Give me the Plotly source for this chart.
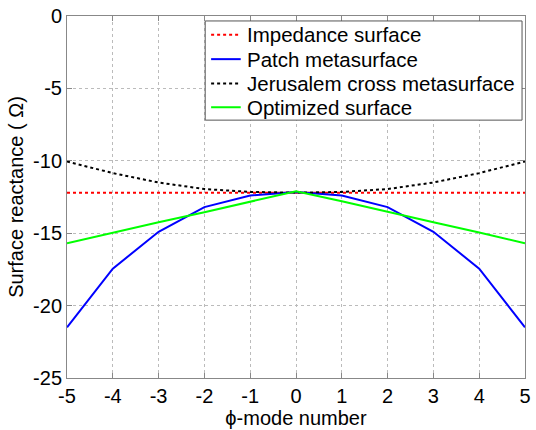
import plotly.graph_objects as go

# phi-mode index and surface reactance (Ohm) for each surface model
modes = [-5, -4, -3, -2, -1, 0, 1, 2, 3, 4, 5]
impedance_surface = [-12.2] * 11
patch_meta = [-21.5, -17.45, -14.9, -13.2, -12.4, -12.15, -12.4, -13.2, -14.9, -17.45, -21.5]
jerusalem_meta = [-10.05, -10.85, -11.5, -11.95, -12.15, -12.2, -12.15, -11.95, -11.5, -10.85, -10.05]
optimized = [-15.7, -14.95, -14.25, -13.55, -12.8, -12.1, -12.8, -13.55, -14.25, -14.95, -15.7]

x_ticks = list(range(-5, 6))
x_tick_text = [str(v).replace("−", "-") for v in x_ticks]
y_ticks = [0, -5, -10, -15, -20, -25]
y_tick_text = [str(v) for v in y_ticks]

series = [
    ("Impedance surface", impedance_surface, "#ff0000", "dot"),
    ("Patch metasurface", patch_meta, "#0000ff", "solid"),
    ("Jerusalem cross metasurface", jerusalem_meta, "#000000", "dot"),
    ("Optimized surface", optimized, "#00ff00", "solid"),
]

FONT = "Liberation Sans, Arial, sans-serif"
W, H = 536, 430
M_L, M_R, M_T, M_B = 67, 5, 13, 52
PW, PH = W - M_L - M_R, H - M_T - M_B


def px_x(p):
    return (p - M_L) / PW


def px_y(p):
    return (H - M_B - p) / PH


fig = go.Figure()
for name, vals, color, dash in series:
    fig.add_trace(go.Scatter(x=modes, y=vals, mode="lines", name=name,
                             line=dict(color=color, width=2, dash=dash)))

# Boxed legend in the upper right, compact MATLAB-style row spacing
shapes = [dict(type="rect", xref="paper", yref="paper", layer="above",
               x0=px_x(207), x1=px_x(528), y0=px_y(118), y1=px_y(18),
               fillcolor="white", line=dict(color="#555555", width=1))]
annotations = []
row_y = [32, 56.5, 81, 105]
for (name, _, color, dash), ry in zip(series, row_y):
    shapes.append(dict(type="line", xref="paper", yref="paper", layer="above",
                       x0=px_x(213), x1=px_x(243), y0=px_y(ry), y1=px_y(ry),
                       line=dict(color=color, width=2, dash=dash)))
    annotations.append(dict(text=name, xref="paper", yref="paper", showarrow=False,
                            x=px_x(247), y=px_y(ry), xanchor="left", yanchor="middle",
                            font=dict(family=FONT, size=20.5, color="black")))

axis_common = dict(
    showline=True, linecolor="#888888", linewidth=1, mirror="allticks",
    ticks="inside", ticklen=5, tickcolor="#888888",
    showgrid=True, gridcolor="#bbbbbb", griddash="dot", gridwidth=1,
    zeroline=False, tickfont=dict(family=FONT, size=20, color="black"),
)

fig.update_layout(
    width=W, height=H,
    margin=dict(l=M_L, r=M_R, t=M_T, b=M_B),
    paper_bgcolor="white", plot_bgcolor="white",
    font=dict(family=FONT, color="black"),
    xaxis=dict(range=[-5, 5], tickvals=x_ticks, ticktext=x_tick_text,
               title=dict(text="ϕ-mode number", font=dict(family=FONT, size=20), standoff=2),
               **axis_common),
    yaxis=dict(range=[-25, 0], tickvals=y_ticks, ticktext=y_tick_text,
               title=dict(text="Surface reactance ( Ω)", font=dict(family=FONT, size=20), standoff=4),
               **axis_common),
    showlegend=False,
    shapes=shapes,
    annotations=annotations,
)

fig.write_html("out.html")
